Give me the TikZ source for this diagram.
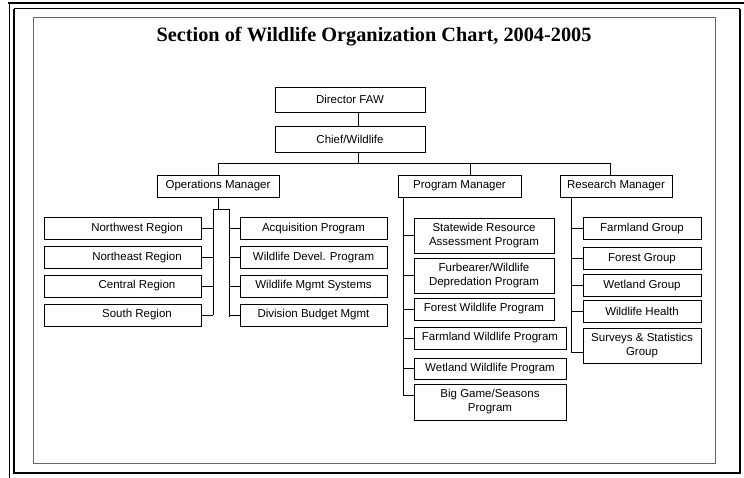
\documentclass[tikz,border=0pt]{standalone}
\usepackage{fontspec}
\setmainfont{Liberation Serif}
\setsansfont{Liberation Sans}
\begin{document}
\begin{tikzpicture}[x=1pt,y=-1pt,
	box/.style={draw,line width=0.9pt,inner sep=1pt,minimum height=22pt,font=\sffamily\fontsize{11.5}{14}\selectfont},
	regbox/.style={box,minimum width=157pt,execute at begin node={\hspace*{29pt}}},
	opbox/.style={box,minimum width=147pt},
	resbox/.style={box,minimum width=118pt},
	link/.style={line width=0.8pt}]
	\useasboundingbox (0,0) rectangle (744,478);
	\draw [line width=1pt] (9,478) -- (9,3);
	\draw [line width=2pt] (8,3) -- (744,3);
	\draw [line width=1pt] (14,9) -- (740,9);
	\draw [line width=2pt] (14,9) -- (14,473) -- (740,473) -- (740,9);
	\draw [gray!80!black,line width=0.8pt] (33,17) rectangle (715,463);

	\node [font=\bfseries\fontsize{20.3}{24}\selectfont] (title) at (374,37) {Section of Wildlife Organization Chart, 2004-2005};

	\node [box,minimum width=150pt,minimum height=25pt] (dir) at (350,99.5) {Director FAW};
	\node [box,minimum width=150pt,minimum height=26pt] (chief) at (350,139) {Chief/Wildlife};
	\node [box,minimum width=122pt] (ops) at (218,186) {Operations Manager};
	\node [box,minimum width=123pt] (prog) at (459.5,186) {Program Manager};
	\node [box,minimum width=112pt] (res) at (616,186) {Research Manager};

	\node [regbox] (nw) at (122.5,228.5) {Northwest Region};
	\node [regbox] (ne) at (122.5,257.5) {Northeast Region};
	\node [regbox] (cen) at (122.5,286) {Central Region};
	\node [regbox] (sr) at (122.5,315) {South Region};
	\node [opbox] (acq) at (313.5,228.5) {Acquisition Program};
	\node [opbox] (dev) at (313.5,257.5) {Wildlife Devel. Program};
	\node [opbox] (mgmt) at (313.5,286) {Wildlife Mgmt Systems};
	\node [opbox] (bud) at (313.5,315) {Division Budget Mgmt};

	\node [box,align=center,minimum width=140pt,minimum height=35pt] (state) at (484,235.5) {Statewide Resource\\Assessment Program};
	\node [box,align=center,minimum width=140pt,minimum height=35pt] (furb) at (484,275.5) {Furbearer/Wildlife\\Depredation Program};
	\node [box,minimum width=140pt] (forwp) at (484,309) {Forest Wildlife Program};
	\node [box,minimum width=152pt] (farmwp) at (490,338) {Farmland Wildlife Program};
	\node [box,minimum width=152pt,minimum height=21pt] (wetwp) at (490,368.5) {Wetland Wildlife Program};
	\node [box,align=center,minimum width=152pt,minimum height=36pt] (biggame) at (490,402) {Big Game/Seasons\\Program};

	\node [resbox] (farmg) at (642,228.5) {Farmland Group};
	\node [resbox] (forg) at (642,258.5) {Forest Group};
	\node [resbox] (wetg) at (642,285.5) {Wetland Group};
	\node [resbox] (health) at (642,311) {Wildlife Health};
	\node [resbox,align=center,minimum height=35pt] (surv) at (642,345.5) {Surveys \& Statistics\\Group};

	\coordinate (trunk) at (358,163);
	\coordinate (opsdrop) at (218,163);
	\coordinate (progdrop) at (470,163);
	\coordinate (resdrop) at (610,163);
	\draw [link] (dir.south -| trunk) -- (chief.north -| trunk);
	\draw [link] (chief.south -| trunk) -- (trunk);
	\draw [link] (ops.north) -- (opsdrop) -- (resdrop) -- (resdrop |- res.north);
	\draw [link] (progdrop) -- (progdrop |- prog.north);

	\coordinate (opsfork) at (218,209);
	\coordinate (railL) at (213,315);
	\coordinate (railR) at (229,317);
	\draw [link] (ops.south) -- (opsfork);
	\draw [link] (railL) -- (railL |- opsfork) -- (railR |- opsfork) -- (railR);
	\foreach \n in {nw,ne,cen,sr}
		\draw [link] (\n.east) -- (\n.east -| railL);
	\foreach \n in {acq,dev,mgmt,bud}
		\draw [link] (\n.west) -- (\n.west -| railR);

	\coordinate (progend) at (403,395);
	\draw [link] (prog.south -| progend) -- (progend) -- (progend -| biggame.west);
	\foreach \n in {state,furb,forwp,farmwp,wetwp}
		\draw [link] (\n.west) -- (\n.west -| progend);

	\coordinate (resend) at (571,352);
	\draw [link] (res.south -| resend) -- (resend) -- (resend -| surv.west);
	\foreach \n in {farmg,forg,wetg,health}
		\draw [link] (\n.west) -- (\n.west -| resend);
\end{tikzpicture}
\end{document}
